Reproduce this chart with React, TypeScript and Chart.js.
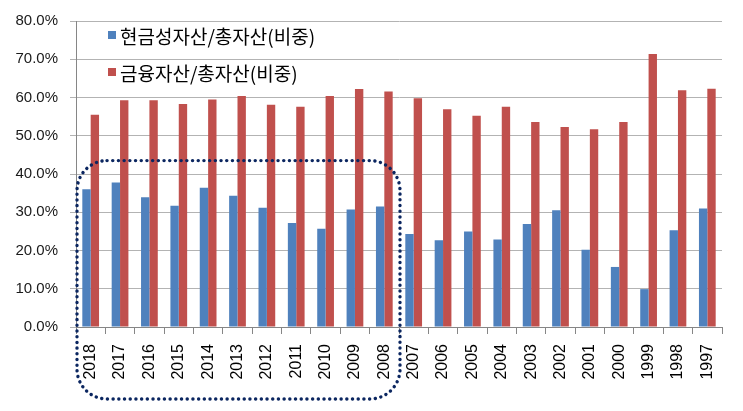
import React, { useEffect, useRef } from "react";
import { Chart, registerables } from "chart.js";

Chart.register(...registerables);

const years = ["2018","2017","2016","2015","2014","2013","2012","2011","2010","2009","2008","2007","2006","2005","2004","2003","2002","2001","2000","1999","1998","1997"];
const cashRatio = [36.0,37.8,33.9,31.7,36.4,34.3,31.2,27.2,25.7,30.7,31.5,24.3,22.7,25.0,22.9,26.9,30.5,20.2,15.7,9.9,25.3,31.0];
const financialRatio = [55.5,59.3,59.3,58.3,59.5,60.4,58.1,57.6,60.4,62.2,61.6,59.8,56.9,55.2,57.6,53.6,52.3,51.7,53.6,71.4,61.9,62.3];
const seriesNames = ["현금성자산/총자산(비중)", "금융자산/총자산(비중)"];
const seriesColors = ["#4f81bd", "#c0504d"];
const highlightFrom = 0;
const highlightTo = 10;
const highlightTopValue = 43.5;

const insideLegend = {
  id: "insideLegend",
  afterDraw(chart: any) {
    const { ctx, chartArea } = chart;
    ctx.save();
    ctx.font = '19px "Noto Sans CJK KR", sans-serif';
    ctx.textBaseline = "middle";
    ctx.textAlign = "left";
    chart.data.datasets.forEach((ds: any, i: number) => {
      const cy = chartArea.top + 14 + i * 37;
      ctx.fillStyle = ds.backgroundColor;
      ctx.fillRect(chartArea.left + 32, cy - 4, 8, 8);
      ctx.fillStyle = "#000";
      ctx.fillText(ds.label, chartArea.left + 44, cy + 2);
    });
    ctx.restore();
  },
};

const highlightBox = {
  id: "highlightBox",
  afterDraw(chart: any) {
    const { ctx } = chart;
    const xs = chart.scales.x;
    const ys = chart.scales.y;
    const half = (xs.getPixelForValue(1) - xs.getPixelForValue(0)) / 2;
    const left = xs.getPixelForValue(highlightFrom) - half + 1;
    const right = xs.getPixelForValue(highlightTo) + half + 1;
    const top = ys.getPixelForValue(highlightTopValue);
    const bottom = xs.bottom - 12;
    const r = 30;
    ctx.save();
    ctx.strokeStyle = "#0b2660";
    ctx.lineWidth = 3.4;
    ctx.lineCap = "round";
    ctx.setLineDash([0.1, 5.6]);
    ctx.beginPath();
    ctx.moveTo(left + r, top);
    ctx.lineTo(right - r, top);
    ctx.arcTo(right, top, right, top + r, r);
    ctx.lineTo(right, bottom - r);
    ctx.arcTo(right, bottom, right - r, bottom, r);
    ctx.lineTo(left + r, bottom);
    ctx.arcTo(left, bottom, left, bottom - r, r);
    ctx.lineTo(left, top + r);
    ctx.arcTo(left, top, left + r, top, r);
    ctx.closePath();
    ctx.stroke();
    ctx.restore();
  },
};

export default function App() {
  const ref = useRef<HTMLCanvasElement>(null);
  useEffect(() => {
    document.body.style.margin = "0";
    const chart = new Chart(ref.current!, {
      type: "bar",
      data: {
        labels: years,
        datasets: [
          { label: seriesNames[0], data: cashRatio, backgroundColor: seriesColors[0], categoryPercentage: 0.57, barPercentage: 1.0 },
          { label: seriesNames[1], data: financialRatio, backgroundColor: seriesColors[1], categoryPercentage: 0.57, barPercentage: 1.0 },
        ],
      },
      options: {
        responsive: false,
        animation: false,
        layout: { padding: { top: 20, right: 21, left: 0, bottom: 0 } },
        plugins: { legend: { display: false }, tooltip: { enabled: false } },
        scales: {
          x: {
            afterFit: (s: any) => { s.height = 84; },
            grid: { offset: true, drawOnChartArea: false, drawTicks: true, tickLength: 7, color: "#868686" },
            border: { color: "#868686" },
            ticks: {
              minRotation: 90, maxRotation: 90, autoSkip: false, padding: 10,
              color: "#000", font: { family: '"Liberation Sans", Arial, sans-serif', size: 16 },
            },
          },
          y: {
            min: 0, max: 80,
            afterFit: (s: any) => { s.width = 76; },
            grid: { color: "#b3b3b3", tickLength: 6 },
            border: { color: "#868686" },
            ticks: {
              stepSize: 10, padding: 12,
              color: "#1a1a1a", font: { family: '"Liberation Sans", Arial, sans-serif', size: 15 },
              callback: (v: any) => Number(v).toFixed(1) + "%",
            },
          },
        },
      },
      plugins: [insideLegend, highlightBox],
    });
    return () => chart.destroy();
  }, []);
  return (
    <div style={{ position: "absolute", left: 0, top: 0, width: 743, height: 411, background: "#fff" }}>
      <canvas ref={ref} width={743} height={411} />
    </div>
  );
}
